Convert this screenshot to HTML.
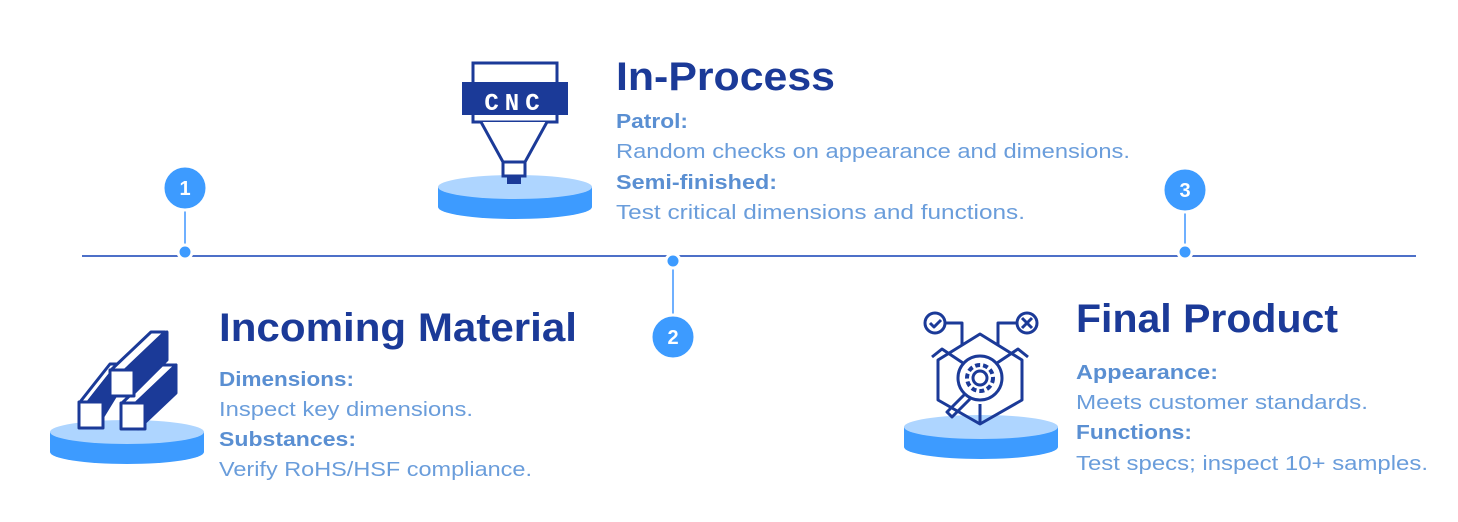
<!DOCTYPE html>
<html><head><meta charset="utf-8"><style>
html,body{margin:0;padding:0;background:#fff;width:1458px;height:522px;overflow:hidden}
svg{display:block}
.t{font-family:"Liberation Sans",sans-serif;font-weight:bold;fill:#1b3a98;font-size:40px}
.h{font-family:"Liberation Sans",sans-serif;font-weight:bold;fill:#5a8fd2;font-size:20px}
.b{font-family:"Liberation Sans",sans-serif;fill:#6a9ddb;font-size:20.5px}
.n{font-family:"Liberation Sans",sans-serif;font-weight:bold;fill:#fff;font-size:20px;text-anchor:middle}
</style></head><body>
<svg width="1458" height="522" viewBox="0 0 1458 522">
<defs>
<g id="ped">
<path d="M0 0 v20 a77 12 0 0 0 154 0 v-20 z" fill="#3d9bff"/>
<ellipse cx="77" cy="0" rx="77" ry="12" fill="#aed5ff"/>
</g>
</defs>
<line x1="82" y1="256" x2="1416" y2="256" stroke="#4d70c8" stroke-width="2"/>
<g stroke="#6fb0ff" stroke-width="2">
<line x1="185" y1="190" x2="185" y2="252"/>
<line x1="673" y1="261" x2="673" y2="337"/>
<line x1="1185" y1="190" x2="1185" y2="252"/>
</g>
<g fill="#3d9bff" stroke="#fff" stroke-width="3">
<circle cx="185" cy="252" r="7"/><circle cx="673" cy="261" r="7"/><circle cx="1185" cy="252" r="7"/>
<circle cx="185" cy="188" r="22"/><circle cx="673" cy="337" r="22"/><circle cx="1185" cy="190" r="22"/>
</g>
<text class="n" x="185" y="195">1</text>
<text class="n" x="673" y="344">2</text>
<text class="n" x="1185" y="197">3</text>

<use href="#ped" x="438" y="187"/>
<g stroke="#1b3a98" stroke-width="3" fill="#fff">
<rect x="473" y="63" width="84" height="21"/>
<path d="M473 114 v8 h84 v-8"/>
<path d="M481 122 l22 40 h22 l22 -40"/>
<rect x="503" y="162" width="22" height="14"/>
</g>
<rect x="462" y="82" width="106" height="33" fill="#1b3a98"/>
<rect x="507" y="176" width="14" height="8" fill="#1b3a98"/>
<text x="515" y="110" font-family="Liberation Mono,monospace" font-weight="bold" font-size="24" fill="#fff" text-anchor="middle" letter-spacing="6">CNC</text>

<use href="#ped" x="50" y="432"/>
<g stroke="#1b3a98" stroke-width="3" fill="#fff" stroke-linejoin="round">
<path d="M80 402 l30 -38 h8 l-30 38 z"/>
<path d="M88 402 l30 -38 v28 l-22 36 z" fill="#1b3a98"/>
<rect x="79" y="402" width="24" height="26"/>
<path d="M122 403 l40 -38 h14 l-40 38 z"/>
<path d="M136 403 l40 -38 v28 l-38 36 z" fill="#1b3a98"/>
<rect x="121" y="403" width="24" height="26"/>
<path d="M111 370 l40 -38 h14 l-40 38 z"/>
<path d="M127 370 l40 -38 v28 l-36 36 z" fill="#1b3a98"/>
<rect x="110" y="370" width="24" height="26"/>
</g>

<use href="#ped" x="904" y="427"/>
<g stroke="#1b3a98" stroke-width="3" fill="none" stroke-linejoin="round">
<circle cx="935" cy="323" r="10"/><path d="M930 323 l4 4 l7 -7"/>
<circle cx="1027" cy="323" r="10"/><path d="M1022 318 l10 10 M1032 318 l-10 10"/>
<path d="M945 323 h17 v22 M1017 323 h-19 v22"/>
<path d="M938 360 l42 -26 l42 26 v40 l-42 24 l-42 -24 z"/>
<path d="M932 357 l10 -8 l30 20 M1028 357 l-10 -8 l-30 20"/>
<path d="M980 424 v-20"/>
<circle cx="980" cy="378" r="22" fill="#fff"/>
<circle cx="980" cy="378" r="7"/>
<circle cx="980" cy="378" r="13" stroke-dasharray="5 3" stroke-width="4"/>
<path d="M965 394 l-18 18 l5 5 l18 -18"/>
</g>

<text class="t" x="616" y="90" textLength="219" lengthAdjust="spacingAndGlyphs">In-Process</text>
<text class="h" x="616" y="128" textLength="72" lengthAdjust="spacingAndGlyphs">Patrol:</text>
<text class="b" x="616" y="158" textLength="514" lengthAdjust="spacingAndGlyphs">Random checks on appearance and dimensions.</text>
<text class="h" x="616" y="189" textLength="161" lengthAdjust="spacingAndGlyphs">Semi-finished:</text>
<text class="b" x="616" y="219" textLength="409" lengthAdjust="spacingAndGlyphs">Test critical dimensions and functions.</text>

<text class="t" x="219" y="341" textLength="358" lengthAdjust="spacingAndGlyphs">Incoming Material</text>
<text class="h" x="219" y="386" textLength="135" lengthAdjust="spacingAndGlyphs">Dimensions:</text>
<text class="b" x="219" y="416" textLength="254" lengthAdjust="spacingAndGlyphs">Inspect key dimensions.</text>
<text class="h" x="219" y="446" textLength="137" lengthAdjust="spacingAndGlyphs">Substances:</text>
<text class="b" x="219" y="476" textLength="313" lengthAdjust="spacingAndGlyphs">Verify RoHS/HSF compliance.</text>

<text class="t" x="1076" y="332" textLength="262" lengthAdjust="spacingAndGlyphs">Final Product</text>
<text class="h" x="1076" y="379" textLength="142" lengthAdjust="spacingAndGlyphs">Appearance:</text>
<text class="b" x="1076" y="409" textLength="292" lengthAdjust="spacingAndGlyphs">Meets customer standards.</text>
<text class="h" x="1076" y="439" textLength="116" lengthAdjust="spacingAndGlyphs">Functions:</text>
<text class="b" x="1076" y="470" textLength="352" lengthAdjust="spacingAndGlyphs">Test specs; inspect 10+ samples.</text>
</svg>
</body></html>
